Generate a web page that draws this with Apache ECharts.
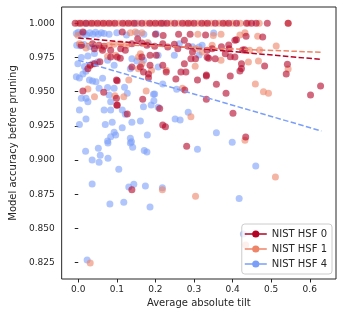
<!DOCTYPE html>
<html>
<head>
<meta charset="utf-8">
<script src="https://cdn.jsdelivr.net/npm/echarts@6/dist/echarts.min.js"></script>
<style>html,body{margin:0;padding:0;background:#fff}#c{width:343px;height:317px}</style>
</head>
<body>
<div id="c"></div>
<script>
const seriesNames = ['NIST HSF 0', 'NIST HSF 1', 'NIST HSF 4'];
const xTicks = [0, 0.1, 0.2, 0.3, 0.4, 0.5, 0.6];
const yTicks = [0.825, 0.85, 0.875, 0.9, 0.925, 0.95, 0.975, 1.0];

const hsf0Points = [
[-0.008,1],[0.005,1],[0.02,1],[0.035,1],[0.05,1],[0.065,1],[0.08,1],[0.095,1],[0.115,1],[0.13,1],[0.145,1],[0.165,1],[0.185,1],[0.2,1],[0.215,1],[0.23,1],[0.25,1],[0.27,1],[0.285,1],[0.3,1],[0.32,1],[0.335,1],[0.355,1],[0.375,1],[0.39,1],[0.41,1],[0.436,1],[0.449,1],[0.461,1],[0.49,1],[0.544,1],
[0.012,0.9936],[0.114,0.9936],[0.154,0.9887],[0.2,0.992],[0.22,0.991],[0.26,0.992],[0.275,0.9876],[0.29,0.992],[0.33,0.9915],[0.406,0.9876],[0.41,0.988],[0.435,0.9905],[0.478,0.990],
[0.008,0.9839],[0.037,0.985],[0.054,0.9839],[0.067,0.9832],[0.042,0.9814],[0.063,0.9802],[0.084,0.9802],[0.11,0.9814],[0.122,0.9802],[0.139,0.985],[0.165,0.9856],[0.178,0.9839],[0.198,0.9832],[0.219,0.985],[0.232,0.9827],[0.249,0.9846],[0.258,0.9814],[0.285,0.9832],[0.296,0.979],[0.334,0.9802],[0.347,0.9814],[0.371,0.9829],[0.39,0.9841],[0.391,0.9814],[0.381,0.9778],[0.426,0.9805],[0.431,0.9807],
[0.084,0.9753],[0.101,0.9753],[0.165,0.9753],[0.186,0.9766],[0.202,0.9766],[0.109,0.9744],[0.056,0.9719],[0.292,0.974],[0.304,0.974],[0.275,0.9705],[0.334,0.9752],[0.355,0.974],[0.338,0.9744],[0.394,0.9756],[0.406,0.9753],[0.423,0.9705],[0.025,0.9668],[0.031,0.9693],[0.042,0.9705],[0.139,0.968],[0.161,0.968],[0.169,0.9644],[0.186,0.9693],[0.182,0.963],[0.219,0.9693],[0.228,0.9644],[0.279,0.9644],[0.266,0.9644],[0.483,0.9688],[0.542,0.970],[0.539,0.963],[0.419,0.9651],[0.423,0.967],[0.394,0.9615],[0.332,0.9622],
[0.101,0.958],[0.182,0.9602],[0.099,0.9585],[0.012,0.9505],[0.066,0.9496],[0.101,0.9403],[0.167,0.9444],[0.099,0.9452],[0.127,0.9337],[0.1,0.940],[0.211,0.9378],[0.219,0.9256],[0.226,0.9244],[0.253,0.9593],[0.276,0.9512],[0.309,0.9585],[0.332,0.9614],[0.358,0.9554],[0.383,0.9488],[0.332,0.9444],[0.401,0.9342],[0.628,0.9541],[0.602,0.9476],[0.434,0.9169],[0.281,0.9102],[0.139,0.8784]
];

const hsf1Points = [
[0.0,1],[0.012,1],[0.028,1],[0.042,1],[0.058,1],[0.072,1],[0.088,1],[0.105,1],[0.122,1],[0.138,1],[0.155,1],[0.175,1],[0.192,1],[0.208,1],[0.222,1],[0.24,1],[0.26,1],[0.278,1],[0.292,1],[0.31,1],[0.328,1],[0.345,1],[0.365,1],[0.382,1],[0.4,1],[0.42,1],[0.44,1],[0.469,1],[0.544,1],
[-0.001,0.9912],[0.135,0.993],[0.148,0.9936],[0.165,0.993],[0.31,0.992],[0.35,0.991],[0.37,0.992],[0.419,0.9914],[0.432,0.993],[0.465,0.9905],
[0.003,0.985],[0.08,0.9839],[0.093,0.9846],[0.11,0.985],[0.125,0.984],[0.18,0.986],[0.304,0.9814],[0.321,0.979],[0.347,0.9839],[0.444,0.9802],[0.47,0.9805],[0.513,0.9834],[0.02,0.982],[0.06,0.9815],
[0.076,0.9759],[0.097,0.9766],[0.156,0.9753],[0.161,0.9778],[0.165,0.9705],[0.156,0.9668],[0.19,0.9656],[0.228,0.9656],[0.303,0.9686],[0.37,0.973],[0.441,0.9717],[0.467,0.9724],[0.544,0.9666],[0.031,0.9693],
[0.131,0.9585],[0.025,0.952],[0.042,0.9463],[0.095,0.9471],[0.118,0.9463],[0.176,0.9505],[0.27,0.9525],[0.459,0.9556],[0.48,0.95],[0.493,0.9488],[0.292,0.9317],[0.432,0.9145],[0.511,0.8876],[0.218,0.8784],[0.304,0.8735],[0.031,0.8248],[0.434,0.838]
];

const hsf4Points = [
[0.02,1],[0.15,1],[0.22,1],
[-0.005,0.9925],[0.0,0.9935],[0.008,0.992],[0.015,0.993],[0.022,0.9915],[0.03,0.993],[0.038,0.992],[0.045,0.9935],[0.052,0.992],[0.06,0.993],[0.067,0.9925],[0.08,0.992],[0.1,0.993],[0.125,0.9915],[0.153,0.9929],[0.17,0.992],[0.202,0.9924],[0.351,0.9929],
[-0.004,0.984],[0.005,0.9835],[0.015,0.9845],[0.03,0.983],[0.045,0.9835],[0.182,0.985],[0.262,0.985],[0.296,0.9829],[0.313,0.9827],[0.321,0.984],
[0.008,0.975],[0.025,0.976],[0.042,0.978],[0.249,0.9766],[0.207,0.9766],[0.313,0.9768],[0.207,0.968],
[-0.001,0.9705],[0.016,0.9685],[0.038,0.9705],[0.05,0.9717],[0.076,0.973],[0.093,0.9693],[0.139,0.974],[0.152,0.9724],[0.169,0.973],[0.135,0.9668],[0.012,0.963],[0.02,0.965],
[-0.005,0.961],[0.003,0.96],[0.029,0.9585],[0.037,0.9578],[0.046,0.9573],[0.063,0.9598],
[0.008,0.9452],[0.02,0.9452],[0.025,0.9427],[0.054,0.9525],[0.076,0.953],[0.093,0.9525],[0.08,0.9476],[0.084,0.9427],[0.12,0.9532],[0.127,0.9488],[0.195,0.9481],[0.189,0.9403],[0.169,0.939],[0.067,0.9366],[0.084,0.9366],[0.003,0.9366],[0.02,0.930],[0.114,0.9366],[0.122,0.9335],[0.003,0.926],[0.07,0.926],[0.088,0.9276],[0.114,0.9237],[0.139,0.9276],[0.161,0.9286],[0.179,0.9183],[0.093,0.9203],[0.084,0.9171],[0.097,0.9183],[0.135,0.916],[0.138,0.9134],[0.076,0.914],
[0.219,0.9556],[0.255,0.9517],[0.198,0.9483],[0.196,0.9434],[0.207,0.9386],[0.285,0.9349],[0.251,0.93],[0.264,0.9293],[0.358,0.920],[0.399,0.913],
[0.019,0.9064],[0.052,0.9086],[0.077,0.9125],[0.036,0.900],[0.057,0.9035],[0.054,0.8984],[0.077,0.9013],[0.105,0.8933],[0.135,0.9125],[0.141,0.9094],[0.171,0.9071],[0.178,0.9059],[0.309,0.908],[0.036,0.8825],[0.131,0.8803],[0.144,0.8823],[0.174,0.881],[0.218,0.8798],[0.082,0.868],[0.118,0.8692],[0.186,0.8657],[0.023,0.827],[0.46,0.8957],[0.417,0.872],[0.428,0.846]
];

const trendX = [0.0, 0.63];
const trend0 = [0.9893, 0.9736];
const trend1 = [0.9855, 0.9788];
const trend4 = [0.9729, 0.9213];

const colors = ['#b40426', '#ee8468', '#7b9ff9'];
const txt = '#262626';
const font = 'DejaVu Sans';

const chart = echarts.init(document.getElementById('c'), null, {renderer: 'canvas'});
const legendIcon = 'path://M0,3.2 L22,3.2 L22,4.8 L0,4.8 Z M14.6,4 A3.6,3.6 0 1,1 7.4,4 A3.6,3.6 0 1,1 14.6,4 Z';

function scatter(name, pts, color) {
  return {
    name: name, type: 'scatter', data: pts, symbolSize: 7,
    itemStyle: {color: color, opacity: 0.6}, silent: true, animation: false
  };
}
function trend(name, ys, color) {
  return {
    name: name, type: 'line', data: trendX.map((x, i) => [x, ys[i]]),
    showSymbol: false, symbol: 'none', silent: true, animation: false, z: 5,
    lineStyle: {color: color, width: 1.5, type: [5.5, 2.4]}
  };
}

chart.setOption({
  animation: false,
  grid: {left: 57, top: 7, width: 279, height: 272, show: true, borderColor: txt, borderWidth: 1, backgroundColor: 'transparent'},
  xAxis: {
    type: 'value', min: -0.043, max: 0.668,
    name: 'Average absolute tilt', nameLocation: 'middle', nameGap: 18,
    nameTextStyle: {color: txt, fontSize: 10, fontFamily: font},
    axisLine: {show: false}, splitLine: {show: false},
    axisTick: {show: true, length: 3.5, lineStyle: {color: txt, width: 1}, customValues: xTicks},
    axisLabel: {color: txt, fontSize: 9, fontFamily: font, margin: 6, customValues: xTicks, formatter: v => v.toFixed(1)}
  },
  yAxis: {
    type: 'value', min: 0.8131, max: 1.0119,
    name: 'Model accuracy before pruning', nameLocation: 'middle', nameGap: 40,
    nameTextStyle: {color: txt, fontSize: 10, fontFamily: font},
    axisLine: {show: false}, splitLine: {show: false},
    axisTick: {show: true, length: 3.5, lineStyle: {color: txt, width: 1}, customValues: yTicks},
    axisLabel: {color: txt, fontSize: 9, fontFamily: font, margin: 7, customValues: yTicks, formatter: v => v.toFixed(3)}
  },
  legend: {
    orient: 'vertical', right: 11, bottom: 43,
    data: seriesNames.map((n, i) => ({name: n, icon: legendIcon, itemStyle: {color: colors[i], opacity: 1}})),
    itemWidth: 22, itemHeight: 8, itemGap: 3,
    textStyle: {color: txt, fontSize: 10, fontFamily: font, lineHeight: 12},
    backgroundColor: 'rgba(255,255,255,0.8)', borderColor: '#cccccc', borderWidth: 1, borderRadius: 3,
    padding: [4, 5, 4, 3]
  },
  series: [
    scatter(seriesNames[2], hsf4Points, colors[2]),
    scatter(seriesNames[1], hsf1Points, colors[1]),
    scatter(seriesNames[0], hsf0Points, colors[0]),
    trend('trend0', trend0, colors[0]),
    trend('trend1', trend1, colors[1]),
    trend('trend4', trend4, colors[2])
  ]
});
</script>
</body>
</html>
